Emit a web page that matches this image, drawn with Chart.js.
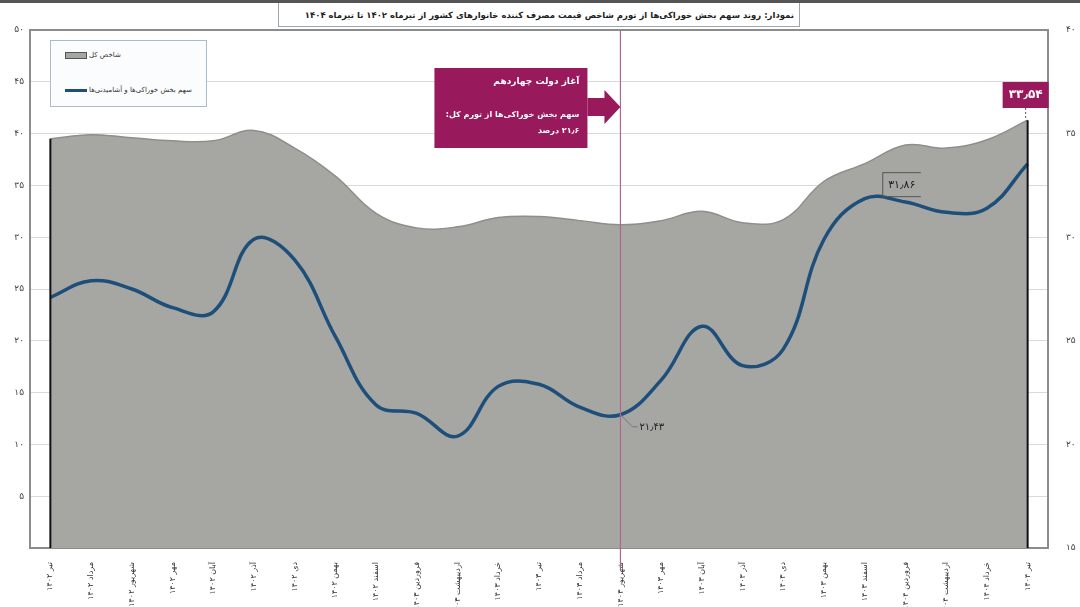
<!DOCTYPE html>
<html lang="fa">
<head>
<meta charset="utf-8">
<script src="https://cdn.jsdelivr.net/npm/chart.js@4/dist/chart.umd.min.js"></script>
<style>
  body { margin: 0; background: #fff; font-family: "DejaVu Sans", sans-serif; }
  #wrap { position: relative; width: 1080px; height: 607px; overflow: hidden; }
  #topline { position: absolute; left: 0; top: 0; width: 1080px; height: 3px; background: #555; }
  #title {
    position: absolute; left: 278px; top: 3px; width: 522px; height: 24px;
    border: 1px solid #9aa5ad; border-top: none; background: #fff;
    font: bold 8.5px "DejaVu Sans", sans-serif; color: #222; white-space: nowrap;
    text-align: right; line-height: 24px; padding-right: 5px; box-sizing: border-box;
  }
  #legend {
    position: absolute; left: 50px; top: 40px; width: 157px; height: 67px;
    border: 1px solid #a9bbcc; background: #fbfcfe; box-sizing: border-box;
    font: 7px "DejaVu Sans", sans-serif; color: #333;
  }
  .item { position: absolute; left: 14px; display: flex; align-items: center; }
  .box { width: 22px; height: 7px; background: #a6a7a3; border: 1px solid #555; box-sizing: border-box; margin-right: 2px; }
  .line { width: 22px; height: 3px; background: #1d4f7a; margin-right: 2px; }
</style>
</head>
<body>
<div id="wrap">
  <canvas id="foodChart" width="1080" height="607"></canvas>
  <div id="topline"></div>
  <div id="title" dir="rtl">نمودار: روند سهم بخش خوراکی‌ها از تورم شاخص قیمت مصرف کننده خانوارهای کشور از تیرماه ۱۴۰۲ تا تیرماه ۱۴۰۴</div>
  <div id="legend">
    <div class="item" style="top:10px"><div class="box"></div><span dir="rtl">شاخص کل</span></div>
    <div class="item" style="top:45px"><div class="line"></div><span dir="rtl">سهم بخش خوراکی‌ها و آشامیدنی‌ها</span></div>
  </div>
</div>
<script>
// Months from Tir 1402 to Tir 1404
const months = [
  "تیر ۱۴۰۲", "مرداد ۱۴۰۲", "شهریور ۱۴۰۲", "مهر ۱۴۰۲", "آبان ۱۴۰۲", "آذر ۱۴۰۲",
  "دی ۱۴۰۲", "بهمن ۱۴۰۲", "اسفند ۱۴۰۲", "فروردین ۱۴۰۳", "اردیبهشت ۱۴۰۳", "خرداد ۱۴۰۳",
  "تیر ۱۴۰۳", "مرداد ۱۴۰۳", "شهریور ۱۴۰۳", "مهر ۱۴۰۳", "آبان ۱۴۰۳", "آذر ۱۴۰۳",
  "دی ۱۴۰۳", "بهمن ۱۴۰۳", "اسفند ۱۴۰۳", "فروردین ۱۴۰۴", "اردیبهشت ۱۴۰۴", "خرداد ۱۴۰۴", "تیر ۱۴۰۴"
];

// Overall inflation (left axis)
const totalInflation = [39.5, 39.9, 39.6, 39.3, 39.3, 40.3, 38.6, 35.9, 32.3, 30.9, 31.0, 31.9, 32.0,
  31.6, 31.2, 31.6, 32.5, 31.4, 31.7, 35.4, 37.1, 38.9, 38.6, 39.4, 41.3];

// Food share of inflation (right axis)
const foodShare = [27.1, 27.9, 27.5, 26.6, 26.4, 29.9, 28.9, 25.2, 21.9, 21.5, 20.4, 22.8, 22.9,
  21.8, 21.43, 23.1, 25.7, 23.8, 24.6, 29.9, 31.86, 31.7, 31.2, 31.4, 33.54];

const leftTicks = [0, 5, 10, 15, 20, 25, 30, 35, 40, 45, 50];
const rightTicks = [15, 20, 25, 30, 35, 40];

const govStartIndex = 14;
const labelPoints = [14, 20, 24];

function toFa(n) {
  return String(n).replace(/[0-9]/g, d => "۰۱۲۳۴۵۶۷۸۹"[d]).replace(".", "٫");
}

const extras = {
  id: "extras",
  beforeDatasetsDraw(chart) {
    const { ctx, chartArea: a } = chart;
    ctx.save();
    ctx.strokeStyle = "#8c8c8c";
    ctx.lineWidth = 2;
    ctx.strokeRect(a.left, a.top, a.right - a.left, a.bottom - a.top);
    ctx.restore();
  },
  afterDatasetsDraw(chart) {
    const { ctx, chartArea: a } = chart;
    const grey = chart.getDatasetMeta(1).data;
    ctx.save();
    // drop lines at both ends of the grey area
    ctx.strokeStyle = "#111";
    ctx.lineWidth = 2;
    [grey[0], grey[grey.length - 1]].forEach(p => {
      ctx.beginPath();
      ctx.moveTo(p.x, p.y);
      ctx.lineTo(p.x, a.bottom);
      ctx.stroke();
    });
    // start of the 14th government
    const gx = chart.scales.x.getPixelForValue(govStartIndex);
    ctx.strokeStyle = "#b0668f";
    ctx.lineWidth = 1.2;
    ctx.beginPath();
    ctx.moveTo(gx, a.top);
    ctx.lineTo(gx, a.bottom + 22);
    ctx.stroke();
    ctx.restore();
  },
  afterDraw(chart) {
    const { ctx } = chart;
    const xs = chart.scales.x, yr = chart.scales.y1;
    ctx.save();
    ctx.direction = "rtl";

    // annotation box with arrow
    const gx = xs.getPixelForValue(govStartIndex);
    const bx = gx - 186, by = 68, bw = 153, bh = 80;
    ctx.fillStyle = "#981a5c";
    ctx.fillRect(bx, by, bw, bh);
    ctx.beginPath();
    ctx.moveTo(bx + bw, by + 30);
    ctx.lineTo(gx - 16, by + 30);
    ctx.lineTo(gx - 16, by + 22);
    ctx.lineTo(gx, by + 39);
    ctx.lineTo(gx - 16, by + 56);
    ctx.lineTo(gx - 16, by + 48);
    ctx.lineTo(bx + bw, by + 48);
    ctx.fill();
    ctx.fillStyle = "#fff";
    ctx.textAlign = "right";
    ctx.textBaseline = "middle";
    ctx.font = "bold 9px 'DejaVu Sans'";
    ctx.fillText("آغاز دولت چهاردهم", bx + bw - 8, by + 14);
    ctx.font = "bold 8px 'DejaVu Sans'";
    ctx.fillText("سهم بخش خوراکی‌ها از تورم کل:", bx + bw - 8, by + 47);
    ctx.fillText(toFa(21.6) + " درصد", bx + bw - 8, by + 63);

    // value labels
    labelPoints.forEach(i => {
      const px = xs.getPixelForValue(i), py = yr.getPixelForValue(foodShare[i]);
      const txt = toFa(foodShare[i]);
      if (i === labelPoints[0]) {
        ctx.strokeStyle = "#777";
        ctx.lineWidth = 1;
        ctx.beginPath();
        ctx.moveTo(px, py);
        ctx.lineTo(px + 12, py + 12);
        ctx.lineTo(px + 17, py + 12);
        ctx.stroke();
        ctx.fillStyle = "#222";
        ctx.font = "10px 'DejaVu Sans'";
        ctx.textAlign = "left";
        ctx.fillText(txt, px + 19, py + 13);
      } else if (i === labelPoints[1]) {
        const lx = px + 18, ly = py - 26;
        ctx.strokeStyle = "#555";
        ctx.lineWidth = 1;
        ctx.beginPath();
        ctx.moveTo(lx + 38, ly);
        ctx.lineTo(lx, ly);
        ctx.lineTo(lx, ly + 24);
        ctx.lineTo(lx + 38, ly + 24);
        ctx.stroke();
        ctx.fillStyle = "#222";
        ctx.font = "11px 'DejaVu Sans'";
        ctx.textAlign = "center";
        ctx.fillText(txt, lx + 19, ly + 12);
      } else {
        const bx2 = px - 25, by2 = 82;
        ctx.fillStyle = "#981a5c";
        ctx.fillRect(bx2, by2, 46, 26);
        ctx.strokeStyle = "#555";
        ctx.setLineDash([2, 2]);
        ctx.beginPath();
        ctx.moveTo(px - 2, by2 + 26);
        ctx.lineTo(px - 2, chart.getDatasetMeta(1).data[i].y);
        ctx.stroke();
        ctx.setLineDash([]);
        ctx.fillStyle = "#fff";
        ctx.font = "bold 12px 'DejaVu Sans'";
        ctx.textAlign = "center";
        ctx.fillText(txt, bx2 + 23, by2 + 13);
      }
    });
    ctx.restore();
  }
};

const ctx = document.getElementById("foodChart").getContext("2d");
const foodChart = new Chart(ctx, {
  type: "line",
  data: {
    labels: months,
    datasets: [
      {
        label: "سهم بخش خوراکی‌ها و آشامیدنی‌ها",
        data: foodShare,
        yAxisID: "y1",
        borderColor: "#1d4f7a",
        borderWidth: 3.5,
        pointRadius: 0,
        tension: 0.4,
        fill: false,
        order: 0,
      },
      {
        label: "شاخص کل",
        data: totalInflation,
        yAxisID: "y",
        borderColor: "#8e8f8b",
        borderWidth: 1.5,
        backgroundColor: "#a6a7a3",
        pointRadius: 0,
        tension: 0.4,
        fill: "origin",
        order: 1,
      },
    ],
  },
  options: {
    responsive: false,
    animation: false,
    layout: { padding: { top: 30, left: 0, right: 0, bottom: 0 } },
    plugins: {
      legend: { display: false },
      tooltip: { enabled: false },
    },
    scales: {
      x: {
        offset: true,
        grid: { display: false },
        border: { display: false },
        ticks: {
          minRotation: 90,
          maxRotation: 90,
          autoSkip: false,
          padding: 6,
          color: "#333",
          font: { family: "DejaVu Sans", size: 8 },
        },
        afterFit(scale) { scale.height = 59; },
      },
      y: {
        position: "left",
        min: leftTicks[0],
        max: leftTicks[leftTicks.length - 1],
        afterBuildTicks(scale) { scale.ticks = leftTicks.map(v => ({ value: v })); },
        grid: { color: "#dadada", drawTicks: false },
        border: { display: false },
        ticks: {
          padding: 6,
          color: "#444",
          font: { family: "DejaVu Sans", size: 9 },
          callback: v => (v === 0 ? "" : toFa(v)),
        },
        afterFit(scale) { scale.width = 30; },
      },
      y1: {
        position: "right",
        min: rightTicks[0],
        max: rightTicks[rightTicks.length - 1],
        afterBuildTicks(scale) { scale.ticks = rightTicks.map(v => ({ value: v })); },
        grid: { display: false },
        border: { display: false },
        ticks: {
          padding: 10,
          color: "#444",
          font: { family: "DejaVu Sans", size: 9 },
          callback: v => toFa(v),
        },
        afterFit(scale) { scale.width = 32; },
      },
    },
  },
  plugins: [extras],
});
</script>
</body>
</html>
